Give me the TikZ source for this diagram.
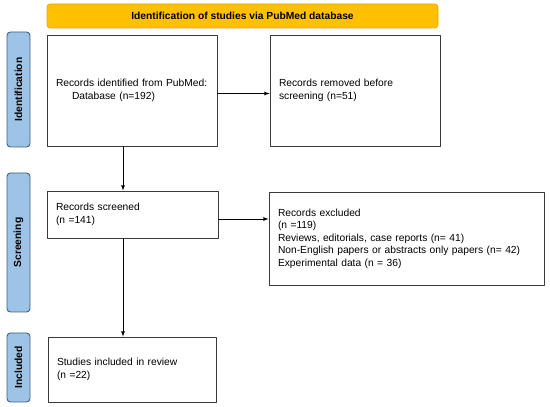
\documentclass[tikz,border=0pt]{standalone}
\usepackage{fontspec}
\setmainfont{Liberation Sans}
\definecolor{bannerfill}{HTML}{FFC000}
\definecolor{bannerline}{HTML}{E8A800}
\definecolor{phasefill}{HTML}{9DC3E6}
\definecolor{phaseline}{HTML}{41607C}
\definecolor{boxline}{HTML}{3A3A3A}
\begin{document}
\begin{tikzpicture}[>=latex,line join=bevel,
    banner/.style={draw=bannerline,fill=bannerfill,rounded corners=3bp,line width=0.6bp,font=\fontsize{10.3}{12}\selectfont\bfseries},
    phase/.style={draw=phaseline,fill=phasefill,rounded corners=3.5bp,line width=0.9bp,rotate=90,font=\fontsize{10.3}{12}\selectfont\bfseries},
    record/.style={draw=boxline,line width=0.8bp,rectangle,inner xsep=9bp,align=left,font=\fontsize{10.3}{12.6}\selectfont},
    link/.style={->,draw=black,line width=0.8bp},]
    \useasboundingbox (0bp,0bp) rectangle (550bp,407bp);
    %%
    \node (top) at (242.5bp,391.0bp) [banner,minimum width=391bp,minimum height=24bp] {Identification of studies via PubMed database};
    \node (identification) at (18.5bp,317.5bp) [phase,minimum width=115bp,minimum height=23bp] {Identification};
    \node (screening) at (18.5bp,164.5bp) [phase,minimum width=139bp,minimum height=23bp] {Screening};
    \node (included) at (18.5bp,39.5bp) [phase,minimum width=69bp,minimum height=23bp] {Included};
    \node (found) at (132.0bp,316.5bp) [record,minimum width=170bp,minimum height=111bp,text width=152bp] {Records identified from PubMed:\\\hspace*{16bp}Database (n=192)};
    \node (removed) at (355.0bp,316.5bp) [record,minimum width=170bp,minimum height=111bp,text width=152bp] {Records removed before\\screening (n=51)};
    \node (screened) at (132.5bp,192.5bp) [record,minimum width=171bp,minimum height=47bp,text width=153bp] {Records screened\\(n =141)};
    \node (excluded) at (406.5bp,168.5bp) [record,minimum width=275bp,minimum height=93bp,text width=257bp] {Records excluded\\(n =119)\\Reviews, editorials, case reports (n= 41)\\Non-English papers or abstracts only papers (n= 42)\\Experimental data (n = 36)};
    \node (review) at (132.0bp,37.5bp) [record,minimum width=168bp,minimum height=65bp,text width=150bp] {Studies included in review\\(n =22)};
    \draw [link] ([yshift=-3bp]found.east) -- ([yshift=-3bp]removed.west);
    \draw [link] ([xshift=-9bp]found.south) -- ([xshift=-9bp]found.south |- screened.north);
    \draw [link] ([yshift=-4.5bp]screened.east) -- ([yshift=-4.5bp]screened.east -| excluded.west);
    \draw [link] ([xshift=-9.5bp]screened.south) -- ([xshift=-9.5bp]screened.south |- review.north);
    %
\end{tikzpicture}
\end{document}
